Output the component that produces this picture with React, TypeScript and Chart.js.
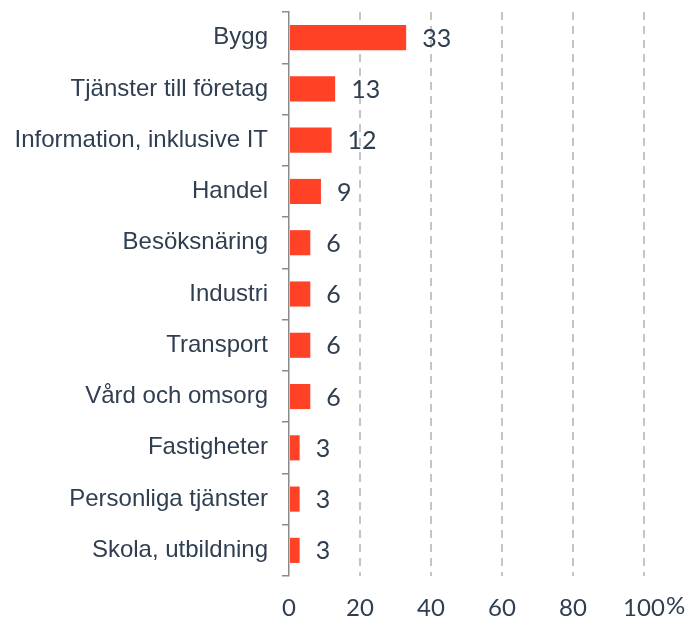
import React, { useEffect, useRef } from "react";
import { Chart, registerables } from "chart.js";

Chart.register(...registerables);

const categories = [
  "Bygg",
  "Tjänster till företag",
  "Information, inklusive IT",
  "Handel",
  "Besöksnäring",
  "Industri",
  "Transport",
  "Vård och omsorg",
  "Fastigheter",
  "Personliga tjänster",
  "Skola, utbildning",
];
const values = [33, 13, 12, 9, 6, 6, 6, 6, 3, 3, 3];
const xTicks = [0, 20, 40, 60, 80, 100];
const unit = "%";

const TEXT = "#2f3e50";
const BAR = "#ff4126";

export default function App() {
  const ref = useRef<HTMLCanvasElement | null>(null);
  useEffect(() => {
    if (!ref.current) return;
    const valueLabels = {
      id: "valueLabels",
      afterDraw(chart: any) {
        const ctx = chart.ctx;
        const meta = chart.getDatasetMeta(0);
        ctx.save();
        ctx.font = "25px Lato";
        ctx.fillStyle = TEXT;
        ctx.textAlign = "left";
        ctx.textBaseline = "middle";
        meta.data.forEach((el: any, i: number) => {
          ctx.fillText(String(values[i]), el.x + 16, el.y + 1);
        });
        // unit after last x tick
        const xs = chart.scales.x;
        const last = xTicks[xTicks.length - 1];
        const px = xs.getPixelForValue(last);
        ctx.font = "24px Lato";
        const w = ctx.measureText(String(last)).width;
        ctx.textBaseline = "middle";
        ctx.fillText(unit, px + w / 2 + 1, 606);
        ctx.restore();
      },
    };
    const chart = new Chart(ref.current, {
      type: "bar",
      data: {
        labels: categories,
        datasets: [
          {
            data: values,
            backgroundColor: BAR,
            borderWidth: 0,
            barPercentage: 0.49,
            categoryPercentage: 1,
          },
        ],
      },
      options: {
        indexAxis: "y",
        animation: false,
        responsive: false,
        maintainAspectRatio: false,
        layout: { padding: { left: 0, right: 48, top: 12, bottom: 0 } },
        plugins: {
          legend: { display: false },
          tooltip: { enabled: false },
        },
        scales: {
          x: {
            min: 0,
            max: 100,
            afterBuildTicks(scale: any) {
              scale.ticks = xTicks.map((v) => ({ value: v }));
            },
            afterFit(scale: any) {
              scale.height = 41;
              scale.paddingLeft = 0;
              scale.paddingRight = 0;
            },
            border: { display: false, dash: [8, 6] },
            grid: {
              drawTicks: false,
              lineWidth: 2,
              color: (c: any) => (c.tick && c.tick.value === 0 ? "rgba(0,0,0,0)" : "#c4c4c4"),
            },
            ticks: {
              padding: 18,
              color: TEXT,
              font: { family: "Lato", size: 24 },
              callback: (v: any) => String(v),
            },
          },
          y: {
            afterFit(scale: any) {
              scale.width = 289;
              scale.paddingTop = 0;
              scale.paddingBottom = 0;
            },
            border: { display: true, color: "#8a8a8a", width: 1.5 },
            grid: {
              drawOnChartArea: false,
              drawTicks: true,
              tickLength: 7,
              color: "#8a8a8a",
              lineWidth: 1.5,
              offset: true,
            },
            ticks: {
              padding: 14,
              color: TEXT,
              font: { family: "Liberation Sans", size: 24 },
            },
          },
        },
      },
      plugins: [valueLabels],
    });
    return () => chart.destroy();
  }, []);
  return (
    <div style={{ position: "absolute", left: 0, top: 0, width: 692, height: 617 }}>
      <canvas ref={ref} width={692} height={617} style={{ width: 692, height: 617 }} />
    </div>
  );
}
